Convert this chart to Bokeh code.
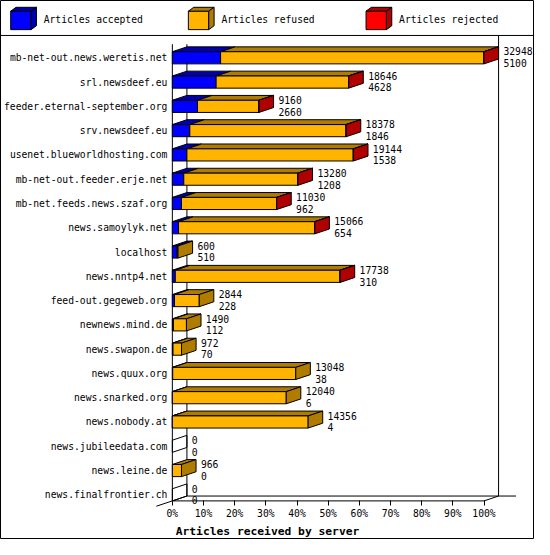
from bokeh.plotting import figure
from bokeh.models import LinearAxis, FixedTicker, Range1d, ColumnDataSource
from bokeh.core.properties import value
from bokeh.embed import file_html
from bokeh.resources import INLINE

# data
servers = [
    "mb-net-out.news.weretis.net", "srl.newsdeef.eu", "feeder.eternal-september.org",
    "srv.newsdeef.eu", "usenet.blueworldhosting.com", "mb-net-out.feeder.erje.net",
    "mb-net.feeds.news.szaf.org", "news.samoylyk.net", "localhost", "news.nntp4.net",
    "feed-out.gegeweb.org", "newnews.mind.de", "news.swapon.de", "news.quux.org",
    "news.snarked.org", "news.nobody.at", "news.jubileedata.com", "news.leine.de",
    "news.finalfrontier.ch",
]
offered = [32948, 18646, 9160, 18378, 19144, 13280, 11030, 15066, 600, 17738,
           2844, 1490, 972, 13048, 12040, 14356, 0, 966, 0]
accepted = [5100, 4628, 2660, 1846, 1538, 1208, 962, 654, 510, 310,
            228, 112, 70, 38, 6, 4, 0, 0, 0]
rejected = [30, 24, 16, 20, 22, 14, 12, 18, 0, 10,
            0, 0, 0, 0, 0, 0, 0, 0, 0]
refused = [o - a - r for o, a, r in zip(offered, accepted, rejected)]

series = ["Articles accepted", "Articles refused", "Articles rejected"]
front_colors = ["#0000ff", "#ffb400", "#ff0000"]
dark_colors = ["#0000b0", "#b07c00", "#b00000"]
pct_ticks = [0, 10, 20, 30, 40, 50, 60, 70, 80, 90, 100]
pct_labels = ["0%", "10%", "20%", "30%", "40%", "50%", "60%", "70%", "80%", "90%", "100%"]

# geometry (reference pixels -> data units)
X0, PX_PCT = 177, 3.21
ROW0, ROW_PX = 59, 25
DX = 15 / PX_PCT
DY = 5 / ROW_PX
BAR_H = 0.5
FONT = value("DejaVu Sans Mono")
FS = "9.7px"


def px_x(px):
    return (px - X0) / PX_PCT


def px_y(px):
    return (px - ROW0) / ROW_PX


n = len(servers)
rows = list(range(n))
TOP = px_y(45)
FLOOR_F = n - 1 + BAR_H / 2
FLOOR_B = FLOOR_F - DY
SEP = px_y(36)

p = figure(
    width=534, height=539,
    x_range=Range1d(px_x(0), px_x(550)),
    y_range=Range1d(px_y(555), px_y(0)),
    output_backend="svg", toolbar_location=None, tools="",
    x_axis_location=None, y_axis_location=None, min_border=0,
)
p.outline_line_color = "black"
p.background_fill_color = "white"
p.border_fill_color = "white"
p.grid.visible = False

vmax = max(offered)
seg_values = [accepted, refused, rejected]

fronts = dict(l=[], r=[], t=[], b=[], c=[])
tops = dict(xs=[], ys=[], c=[])
sides = dict(xs=[], ys=[], c=[], a=[])
for i in rows:
    yt, yb = i - BAR_H / 2, i + BAR_H / 2
    start = 0.0
    last = None
    for k, vals in enumerate(seg_values):
        w = vals[i] / vmax * 100
        if w <= 0:
            continue
        end = start + w
        fronts["l"].append(start); fronts["r"].append(end)
        fronts["t"].append(yt); fronts["b"].append(yb)
        fronts["c"].append(front_colors[k])
        tops["xs"].append([start, end, end + DX, start + DX])
        tops["ys"].append([yt, yt, yt - DY, yt - DY])
        tops["c"].append(dark_colors[k])
        last = k
        start = end
    sides["xs"].append([start, start + DX, start + DX, start])
    sides["ys"].append([yt, yt - DY, yb - DY, yb])
    sides["c"].append(dark_colors[last] if last is not None else "white")
    sides["a"].append(1.0 if last is not None else 0.0)

# frame of the 3d chart
p.segment(
    x0=[0, DX, 0, 100, DX, 100 + DX, px_x(0), DX],
    y0=[TOP, TOP, FLOOR_F, FLOOR_F, FLOOR_B, SEP, SEP, FLOOR_B],
    x1=[0, DX, 100, 100 + DX, px_x(531), 100 + DX, px_x(550), -1.1 * DX],
    y1=[FLOOR_F, FLOOR_B, FLOOR_F, FLOOR_B, FLOOR_B, FLOOR_B, SEP, FLOOR_F + 1.1 * DY],
    line_color="black", line_width=1,
)

p.patches("xs", "ys", fill_color="c", line_color="black", line_width=1,
          source=ColumnDataSource(tops))
p.quad(left="l", right="r", top="t", bottom="b", fill_color="c", line_color="black",
       line_width=1, source=ColumnDataSource(fronts))
p.patches("xs", "ys", fill_color="c", fill_alpha="a", line_color="black", line_width=1,
          source=ColumnDataSource(sides))

# value labels: offered on top, accepted below
ends = [o / vmax * 100 + DX + 5 / PX_PCT for o in offered]
p.text(x=ends + ends, y=[i - 0.26 for i in rows] + [i + 0.22 for i in rows],
       text=[str(v) for v in offered] + [str(v) for v in accepted],
       text_font=FONT, text_font_size=FS, text_baseline="middle", text_color="black")

# legend with little cubes
lx = [px_x(10.5 + 183 * k) for k in range(3)]
lw, ldx, ldy = 21 / PX_PCT, 5.5 / PX_PCT, 4 / ROW_PX
lt, lb = px_y(11), px_y(30)
p.quad(left=lx, right=[x + lw for x in lx], top=[lt] * 3, bottom=[lb] * 3,
       fill_color=front_colors, line_color="black")
p.patches(xs=[[x, x + lw, x + lw + ldx, x + ldx] for x in lx], ys=[[lt, lt, lt - ldy, lt - ldy]] * 3,
          fill_color=dark_colors, line_color="black")
p.patches(xs=[[x + lw, x + lw + ldx, x + lw + ldx, x + lw] for x in lx],
          ys=[[lt, lt - ldy, lb - ldy, lb]] * 3, fill_color=dark_colors, line_color="black")
p.text(x=[px_x(44.5 + 183 * k) for k in range(3)], y=[px_y(20)] * 3, text=series,
       text_font=FONT, text_font_size=FS, text_baseline="middle", text_color="black")

xaxis = LinearAxis(fixed_location=FLOOR_F, ticker=FixedTicker(ticks=pct_ticks),
                   major_label_overrides=dict(zip(pct_ticks, pct_labels)))
xaxis.axis_line_color = None
xaxis.major_tick_line_color = "black"
xaxis.major_tick_out = 5
xaxis.major_tick_in = 0
xaxis.minor_tick_out = 0
xaxis.minor_tick_in = 0
xaxis.major_label_standoff = 2
xaxis.major_label_text_font = "DejaVu Sans Mono"
xaxis.major_label_text_font_size = FS
xaxis.major_label_text_color = "black"
xaxis.axis_label = "Articles received by server"
xaxis.axis_label_text_font = "DejaVu Sans Mono"
xaxis.axis_label_text_font_style = "bold"
xaxis.axis_label_text_font_size = "11.3px"
xaxis.axis_label_text_color = "black"
xaxis.axis_label_standoff = 3
p.add_layout(xaxis, "below")

yaxis = LinearAxis(fixed_location=0, ticker=FixedTicker(ticks=rows),
                   major_label_overrides=dict(zip(rows, servers)))
yaxis.axis_line_color = None
yaxis.major_tick_out = 0
yaxis.major_tick_in = 0
yaxis.minor_tick_out = 0
yaxis.minor_tick_in = 0
yaxis.major_label_standoff = 5
yaxis.major_label_text_font = "DejaVu Sans Mono"
yaxis.major_label_text_font_size = FS
yaxis.major_label_text_color = "black"
p.add_layout(yaxis, "left")

open("out.html", "w").write(file_html(p, INLINE))
